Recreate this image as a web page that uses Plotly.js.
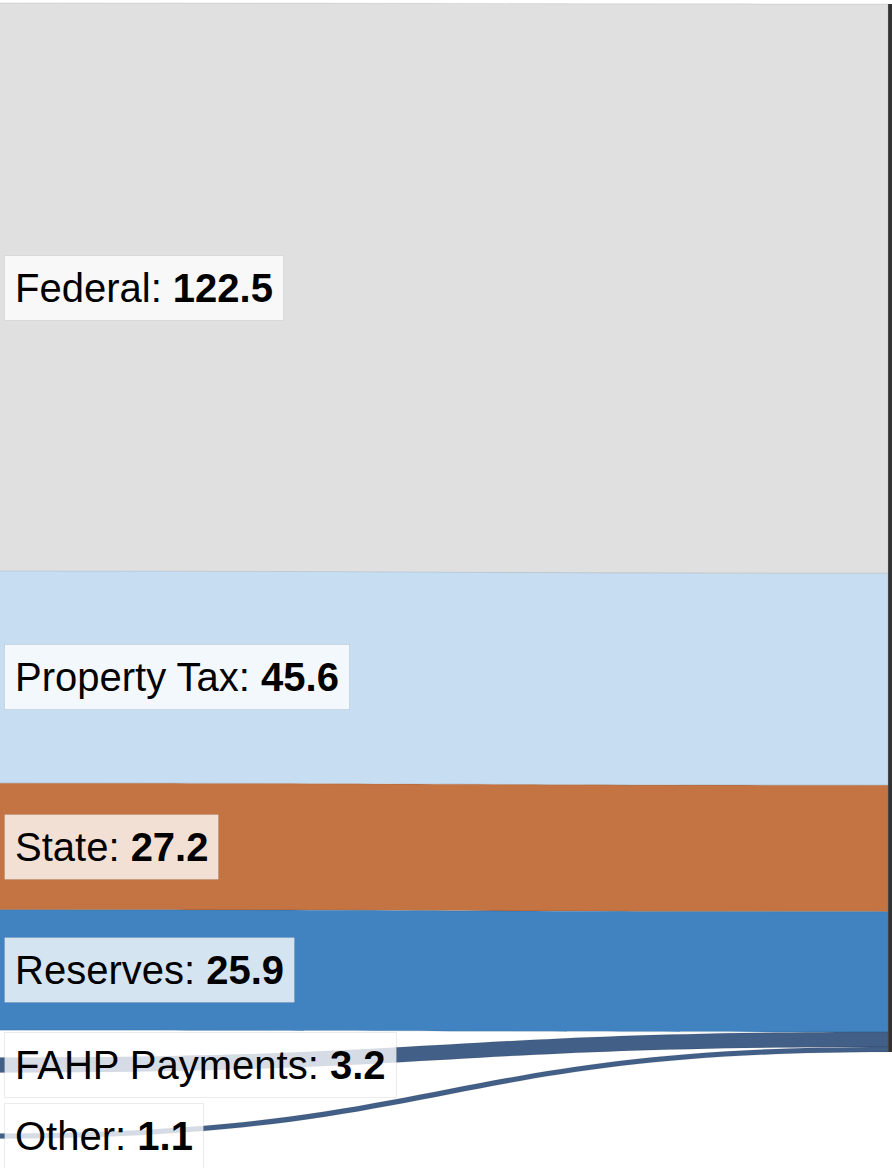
<!DOCTYPE html>
<html><head><meta charset="utf-8">
<script src="https://cdn.plot.ly/plotly-3.0.1.min.js"></script>
<style>html,body{margin:0;padding:0;background:#fff;overflow:hidden}#chart{width:892px;height:1168px}</style>
</head><body><div id="chart"></div>
<script>
// ---- data ----
const sources = ['Federal', 'Property Tax', 'State', 'Reserves', 'FAHP Payments', 'Other'];
const values = [122.5, 45.6, 27.2, 25.9, 3.2, 1.1];
const targetLabel = 'Total Revenue';

// ---- styling / layout constants ----
const W = 892, H = 1168;
const linkColors = ['#e0e0e0', '#c6ddf2', '#c47443', '#4083c0', '#425f87', '#425f87'];
const targetColor = '#333333';
const srcCenterY = [287.6, 677, 846.5, 970, 1065, 1136];
const targetCenterY = 528;

const nodeLabels = sources.concat([targetLabel]);
const nodeX = sources.map(() => -0.004).concat([0.999]);
const nodeY = srcCenterY.map(v => v / H).concat([targetCenterY / H]);
const nodeColors = linkColors.concat([targetColor]);

const trace = {
  type: 'sankey',
  arrangement: 'fixed',
  domain: {x: [0, 1], y: [0, 1]},
  node: {
    label: nodeLabels,
    x: nodeX,
    y: nodeY,
    pad: 24,
    thickness: 6,
    color: nodeColors,
    line: {width: 0, color: 'rgba(0,0,0,0)'}
  },
  textfont: {size: 1, color: 'rgba(0,0,0,0)'},
  link: {
    source: sources.map((_, i) => i),
    target: sources.map(() => sources.length),
    value: values,
    color: linkColors,
    line: {width: 0.6, color: 'rgba(0,0,0,0.15)'}
  }
};

const annotations = sources.map((s, i) => ({
  xref: 'paper', yref: 'paper',
  x: 4 / W, y: 1 - srcCenterY[i] / H,
  xanchor: 'left', yanchor: 'middle',
  text: s + ': <b>' + values[i].toFixed(1) + '</b>',
  showarrow: false,
  font: {family: 'Liberation Sans, Arial, sans-serif', size: 40, color: '#000'},
  bgcolor: 'rgba(255,255,255,0.78)',
  bordercolor: 'rgba(0,0,0,0.08)',
  borderwidth: 1,
  borderpad: 10
}));

const layout = {
  width: W, height: H,
  margin: {l: 0, r: 0, t: 0, b: 0},
  paper_bgcolor: '#ffffff',
  font: {family: 'Liberation Sans, Arial, sans-serif'},
  annotations: annotations,
  showlegend: false
};

Plotly.newPlot('chart', [trace], layout, {displayModeBar: false, staticPlot: true});
</script>
</body></html>
